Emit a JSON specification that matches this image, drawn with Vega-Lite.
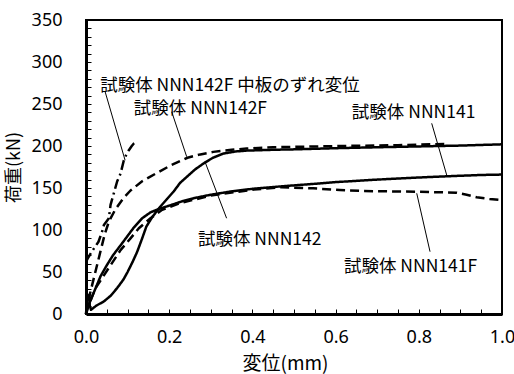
{
  "$schema": "https://vega.github.io/schema/vega-lite/v6.json",
  "width": 416,
  "height": 294,
  "autosize": {"type": "none"},
  "padding": {"left": 86, "top": 20, "right": 12, "bottom": 60},
  "background": "white",
  "config": {
    "view": {"stroke": "black", "strokeWidth": 2},
    "font": "Noto Sans CJK JP"
  },
  "datasets": {
    "gridx": [{"x": 0.2}, {"x": 0.4}, {"x": 0.6}, {"x": 0.8}],
    "gridy": [{"y": 50}, {"y": 100}, {"y": 150}, {"y": 200}, {"y": 250}, {"y": 300}],
    "curves": [
      {"s": "NNN141", "o": 1, "x": 0, "y": 0},
      {"s": "NNN141", "o": 2, "x": 0.003, "y": 8},
      {"s": "NNN141", "o": 3, "x": 0.01, "y": 15},
      {"s": "NNN141", "o": 4, "x": 0.02, "y": 27},
      {"s": "NNN141", "o": 5, "x": 0.035, "y": 45},
      {"s": "NNN141", "o": 6, "x": 0.05, "y": 58},
      {"s": "NNN141", "o": 7, "x": 0.065, "y": 70},
      {"s": "NNN141", "o": 8, "x": 0.085, "y": 83},
      {"s": "NNN141", "o": 9, "x": 0.1, "y": 93},
      {"s": "NNN141", "o": 10, "x": 0.115, "y": 103},
      {"s": "NNN141", "o": 11, "x": 0.135, "y": 114},
      {"s": "NNN141", "o": 12, "x": 0.155, "y": 121},
      {"s": "NNN141", "o": 13, "x": 0.175, "y": 125},
      {"s": "NNN141", "o": 14, "x": 0.2, "y": 129},
      {"s": "NNN141", "o": 15, "x": 0.23, "y": 134},
      {"s": "NNN141", "o": 16, "x": 0.26, "y": 138},
      {"s": "NNN141", "o": 17, "x": 0.3, "y": 142},
      {"s": "NNN141", "o": 18, "x": 0.35, "y": 146},
      {"s": "NNN141", "o": 19, "x": 0.4, "y": 149},
      {"s": "NNN141", "o": 20, "x": 0.47, "y": 152},
      {"s": "NNN141", "o": 21, "x": 0.55, "y": 155},
      {"s": "NNN141", "o": 22, "x": 0.6, "y": 157},
      {"s": "NNN141", "o": 23, "x": 0.7, "y": 160},
      {"s": "NNN141", "o": 24, "x": 0.8, "y": 162.5},
      {"s": "NNN141", "o": 25, "x": 0.87, "y": 164},
      {"s": "NNN141", "o": 26, "x": 0.95, "y": 165.5},
      {"s": "NNN141", "o": 27, "x": 1.0, "y": 166},

      {"s": "NNN142", "o": 1, "x": 0, "y": 0},
      {"s": "NNN142", "o": 2, "x": 0.003, "y": 20},
      {"s": "NNN142", "o": 3, "x": 0.008, "y": 23},
      {"s": "NNN142", "o": 4, "x": 0.009, "y": 10},
      {"s": "NNN142", "o": 5, "x": 0.012, "y": 5},
      {"s": "NNN142", "o": 6, "x": 0.025, "y": 10},
      {"s": "NNN142", "o": 7, "x": 0.043, "y": 15},
      {"s": "NNN142", "o": 8, "x": 0.06, "y": 22},
      {"s": "NNN142", "o": 9, "x": 0.075, "y": 31},
      {"s": "NNN142", "o": 10, "x": 0.09, "y": 41},
      {"s": "NNN142", "o": 11, "x": 0.1, "y": 50},
      {"s": "NNN142", "o": 12, "x": 0.112, "y": 62},
      {"s": "NNN142", "o": 13, "x": 0.123, "y": 74},
      {"s": "NNN142", "o": 14, "x": 0.135, "y": 90},
      {"s": "NNN142", "o": 15, "x": 0.145, "y": 104},
      {"s": "NNN142", "o": 16, "x": 0.16, "y": 116},
      {"s": "NNN142", "o": 17, "x": 0.179, "y": 128},
      {"s": "NNN142", "o": 18, "x": 0.195, "y": 137},
      {"s": "NNN142", "o": 19, "x": 0.211, "y": 146},
      {"s": "NNN142", "o": 20, "x": 0.226, "y": 156},
      {"s": "NNN142", "o": 21, "x": 0.244, "y": 164},
      {"s": "NNN142", "o": 22, "x": 0.262, "y": 172},
      {"s": "NNN142", "o": 23, "x": 0.282, "y": 179},
      {"s": "NNN142", "o": 24, "x": 0.305, "y": 186},
      {"s": "NNN142", "o": 25, "x": 0.33, "y": 191},
      {"s": "NNN142", "o": 26, "x": 0.36, "y": 193.5},
      {"s": "NNN142", "o": 27, "x": 0.386, "y": 194.5},
      {"s": "NNN142", "o": 28, "x": 0.45, "y": 195.5},
      {"s": "NNN142", "o": 29, "x": 0.5, "y": 196},
      {"s": "NNN142", "o": 30, "x": 0.61, "y": 197.5},
      {"s": "NNN142", "o": 31, "x": 0.7, "y": 198.5},
      {"s": "NNN142", "o": 32, "x": 0.8, "y": 199.5},
      {"s": "NNN142", "o": 33, "x": 0.9, "y": 200.5},
      {"s": "NNN142", "o": 34, "x": 1.0, "y": 202},

      {"s": "NNN141F", "o": 1, "x": 0, "y": 0},
      {"s": "NNN141F", "o": 2, "x": 0.01, "y": 15},
      {"s": "NNN141F", "o": 3, "x": 0.023, "y": 31},
      {"s": "NNN141F", "o": 4, "x": 0.039, "y": 43},
      {"s": "NNN141F", "o": 5, "x": 0.059, "y": 58},
      {"s": "NNN141F", "o": 6, "x": 0.083, "y": 76},
      {"s": "NNN141F", "o": 7, "x": 0.107, "y": 90},
      {"s": "NNN141F", "o": 8, "x": 0.127, "y": 102},
      {"s": "NNN141F", "o": 9, "x": 0.155, "y": 114},
      {"s": "NNN141F", "o": 10, "x": 0.183, "y": 124},
      {"s": "NNN141F", "o": 11, "x": 0.226, "y": 132},
      {"s": "NNN141F", "o": 12, "x": 0.3, "y": 141},
      {"s": "NNN141F", "o": 13, "x": 0.4, "y": 148},
      {"s": "NNN141F", "o": 14, "x": 0.47, "y": 151},
      {"s": "NNN141F", "o": 15, "x": 0.546, "y": 149.6},
      {"s": "NNN141F", "o": 16, "x": 0.61, "y": 147.6},
      {"s": "NNN141F", "o": 17, "x": 0.667, "y": 146.4},
      {"s": "NNN141F", "o": 18, "x": 0.795, "y": 145.6},
      {"s": "NNN141F", "o": 19, "x": 0.891, "y": 144.4},
      {"s": "NNN141F", "o": 20, "x": 0.915, "y": 142},
      {"s": "NNN141F", "o": 21, "x": 0.939, "y": 139},
      {"s": "NNN141F", "o": 22, "x": 0.97, "y": 137},
      {"s": "NNN141F", "o": 23, "x": 1.0, "y": 135.7},

      {"s": "NNN142F", "o": 1, "x": 0, "y": 0},
      {"s": "NNN142F", "o": 2, "x": 0.005, "y": 15},
      {"s": "NNN142F", "o": 3, "x": 0.015, "y": 35},
      {"s": "NNN142F", "o": 4, "x": 0.025, "y": 55},
      {"s": "NNN142F", "o": 5, "x": 0.035, "y": 75},
      {"s": "NNN142F", "o": 6, "x": 0.045, "y": 95},
      {"s": "NNN142F", "o": 7, "x": 0.055, "y": 110},
      {"s": "NNN142F", "o": 8, "x": 0.07, "y": 124},
      {"s": "NNN142F", "o": 9, "x": 0.09, "y": 138},
      {"s": "NNN142F", "o": 10, "x": 0.107, "y": 147},
      {"s": "NNN142F", "o": 11, "x": 0.135, "y": 158},
      {"s": "NNN142F", "o": 12, "x": 0.167, "y": 167},
      {"s": "NNN142F", "o": 13, "x": 0.204, "y": 177},
      {"s": "NNN142F", "o": 14, "x": 0.244, "y": 186},
      {"s": "NNN142F", "o": 15, "x": 0.275, "y": 190},
      {"s": "NNN142F", "o": 16, "x": 0.306, "y": 193},
      {"s": "NNN142F", "o": 17, "x": 0.35, "y": 195.5},
      {"s": "NNN142F", "o": 18, "x": 0.386, "y": 197},
      {"s": "NNN142F", "o": 19, "x": 0.45, "y": 198.5},
      {"s": "NNN142F", "o": 20, "x": 0.5, "y": 199},
      {"s": "NNN142F", "o": 21, "x": 0.61, "y": 200},
      {"s": "NNN142F", "o": 22, "x": 0.75, "y": 201},
      {"s": "NNN142F", "o": 23, "x": 0.866, "y": 202.5},

      {"s": "NNN142F_slip", "o": 1, "x": 0, "y": 62},
      {"s": "NNN142F_slip", "o": 2, "x": 0.005, "y": 67},
      {"s": "NNN142F_slip", "o": 3, "x": 0.015, "y": 75},
      {"s": "NNN142F_slip", "o": 4, "x": 0.03, "y": 86},
      {"s": "NNN142F_slip", "o": 5, "x": 0.04, "y": 100},
      {"s": "NNN142F_slip", "o": 6, "x": 0.043, "y": 106},
      {"s": "NNN142F_slip", "o": 7, "x": 0.055, "y": 114},
      {"s": "NNN142F_slip", "o": 8, "x": 0.059, "y": 130},
      {"s": "NNN142F_slip", "o": 9, "x": 0.067, "y": 144},
      {"s": "NNN142F_slip", "o": 10, "x": 0.075, "y": 158},
      {"s": "NNN142F_slip", "o": 11, "x": 0.083, "y": 167},
      {"s": "NNN142F_slip", "o": 12, "x": 0.091, "y": 183},
      {"s": "NNN142F_slip", "o": 13, "x": 0.097, "y": 190},
      {"s": "NNN142F_slip", "o": 14, "x": 0.103, "y": 195},
      {"s": "NNN142F_slip", "o": 15, "x": 0.11, "y": 200},
      {"s": "NNN142F_slip", "o": 16, "x": 0.115, "y": 203},
      {"s": "NNN142F_slip", "o": 17, "x": 0.122, "y": 205}
    ],
    "labels": [
      {"t": "試験体 NNN142F 中板のずれ変位", "x": 0.034, "y": 271},
      {"t": "試験体 NNN142F", "x": 0.115, "y": 244},
      {"t": "試験体 NNN141", "x": 0.639, "y": 239},
      {"t": "試験体 NNN142", "x": 0.269, "y": 88},
      {"t": "試験体 NNN141F", "x": 0.62, "y": 56}
    ],
    "leaders": [
      {"x": 0.046, "y": 264.6, "x2": 0.094, "y2": 183},
      {"x": 0.206, "y": 240.8, "x2": 0.242, "y2": 187.3},
      {"x": 0.286, "y": 181.3, "x2": 0.338, "y2": 114},
      {"x": 0.831, "y": 227, "x2": 0.867, "y2": 165.5},
      {"x": 0.795, "y": 143.7, "x2": 0.827, "y2": 74.2}
    ]
  },
  "encoding": {
    "x": {
      "field": "x", "type": "quantitative",
      "scale": {"domain": [0, 1], "nice": false, "zero": false},
      "axis": {
        "values": [0, 0.05, 0.1, 0.15, 0.2, 0.25, 0.3, 0.35, 0.4, 0.45, 0.5, 0.55, 0.6, 0.65, 0.7, 0.75, 0.8, 0.85, 0.9, 0.95, 1.0],
        "labelExpr": "abs(datum.value*5 - round(datum.value*5)) < 0.001 ? format(datum.value, '.1f') : ''",
        "labelOverlap": false,
        "labelFont": "Noto Sans",
        "labelFontSize": 18,
        "labelColor": "black",
        "labelPadding": 19,
        "labelFlush": false,
        "labelBound": false,
        "tickSize": -5,
        "tickColor": "black",
        "tickWidth": 1,
        "domainColor": "black",
        "domainWidth": 3,
        "grid": false,
        "title": "変位(mm)",
        "titleFont": "Noto Sans CJK JP",
        "titleFontSize": 19,
        "titleFontWeight": "normal",
        "titleColor": "black",
        "titleX": 199,
        "titlePadding": 8
      }
    },
    "y": {
      "field": "y", "type": "quantitative",
      "scale": {"domain": [0, 350], "nice": false},
      "axis": {
        "values": [0,10,20,30,40,50,60,70,80,90,100,110,120,130,140,150,160,170,180,190,200,210,220,230,240,250,260,270,280,290,300,310,320,330,340,350],
        "labelExpr": "datum.value % 50 == 0 ? format(datum.value, 'd') : ''",
        "labelOverlap": false,
        "labelFont": "Noto Sans",
        "labelFontSize": 18,
        "labelColor": "black",
        "labelPadding": 29,
        "labelFlush": false,
        "tickSize": -5,
        "tickColor": "black",
        "tickWidth": 1,
        "domainColor": "black",
        "domainWidth": 3,
        "grid": false,
        "title": "荷重(kN)",
        "titleFont": "Noto Sans CJK JP",
        "titleFontSize": 18,
        "titleFontWeight": "normal",
        "titleColor": "black",
        "titlePadding": 8
      }
    }
  },
  "layer": [
    {
      "data": {"name": "gridx"},
      "mark": {"type": "rule", "color": "#c2c2c2", "strokeWidth": 1.5},
      "encoding": {
        "y": {"datum": 0},
        "y2": {"datum": 350}
      }
    },
    {
      "data": {"name": "gridy"},
      "mark": {"type": "rule", "color": "#c2c2c2", "strokeWidth": 1.5},
      "encoding": {
        "x": {"datum": 0},
        "x2": {"datum": 1}
      }
    },
    {
      "data": {"name": "leaders"},
      "mark": {"type": "rule", "color": "black", "strokeWidth": 1},
      "encoding": {
        "x2": {"field": "x2"},
        "y2": {"field": "y2"}
      }
    },
    {
      "data": {"name": "curves"},
      "mark": {"type": "line", "color": "black", "strokeWidth": 2.5, "strokeJoin": "round"},
      "encoding": {
        "detail": {"field": "s"},
        "order": {"field": "o", "type": "quantitative"},
        "strokeDash": {
          "field": "s", "type": "nominal",
          "scale": {
            "domain": ["NNN141", "NNN142", "NNN141F", "NNN142F", "NNN142F_slip"],
            "range": [[1, 0], [1, 0], [9, 5], [9, 5], [10, 4, 2, 4]]
          },
          "legend": null
        }
      }
    },
    {
      "data": {"name": "labels"},
      "mark": {"type": "text", "align": "left", "baseline": "middle", "font": "Noto Sans CJK JP", "fontSize": 17.5, "color": "black"},
      "encoding": {
        "text": {"field": "t"}
      }
    }
  ]
}
